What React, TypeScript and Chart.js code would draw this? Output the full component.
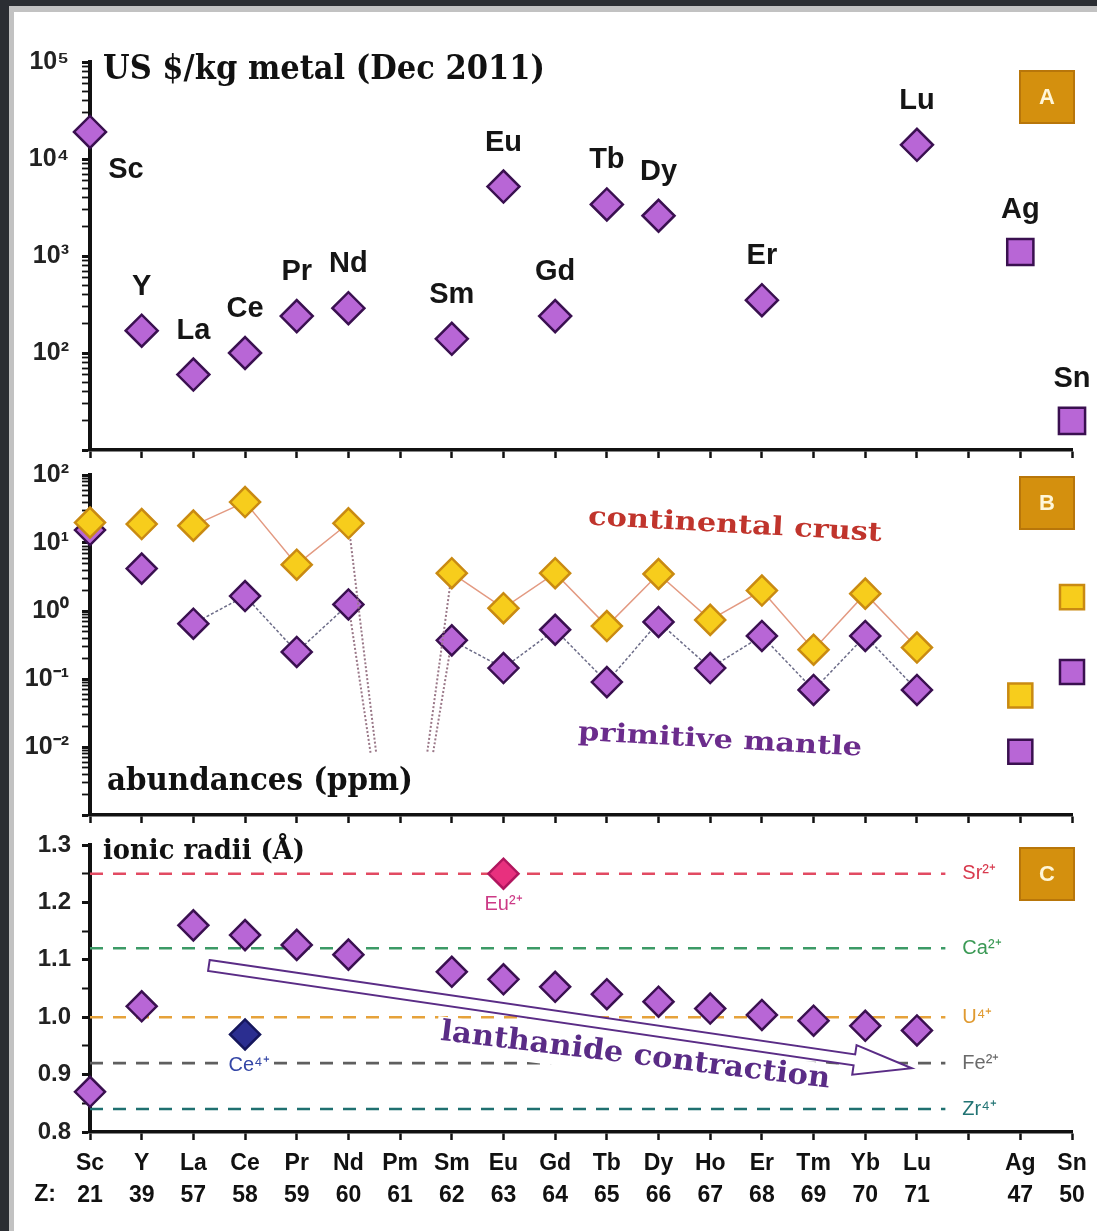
import React, { useEffect, useRef } from 'react';
import { Chart, registerables } from 'chart.js';

Chart.register(...registerables);

// ---------- data ----------
const ELEMENTS = ['Sc', 'Y', 'La', 'Ce', 'Pr', 'Nd', 'Pm', 'Sm', 'Eu', 'Gd', 'Tb', 'Dy', 'Ho', 'Er', 'Tm', 'Yb', 'Lu', '', 'Ag', 'Sn'];
const ATOMIC_NUMBERS = ['21', '39', '57', '58', '59', '60', '61', '62', '63', '64', '65', '66', '67', '68', '69', '70', '71', '', '47', '50'];

// A: metal prices, US$/kg (Dec 2011), Sc..Lu (null = no price shown)
const PRICE_REE = [19000, 170, 60, 100, 240, 290, null, 140, 5200, 240, 3400, 2600, null, 350, null, null, 14000];
// A: reference metals Ag, Sn
const OTHER_METALS = ['Ag', 'Sn'];
const PRICE_OTHER = [1100, 20];

// B: abundances (ppm), Sc..Lu; Pm has no stable isotope and sits far below the axis
const PM_TRACE = 1e-5;
const CRUST_PPM = [20, 19, 18, 40, 4.8, 19.5, PM_TRACE, 3.6, 1.1, 3.6, 0.6, 3.5, 0.74, 2.0, 0.27, 1.8, 0.29];
const MANTLE_PPM = [15.5, 4.2, 0.65, 1.66, 0.25, 1.25, PM_TRACE, 0.37, 0.145, 0.53, 0.09, 0.69, 0.145, 0.43, 0.069, 0.43, 0.069];
const CRUST_OTHER_PPM = [0.057, 1.6];
const MANTLE_OTHER_PPM = [0.0085, 0.127];

// C: ionic radii (Å), trivalent Sc..Lu
const RADII = [0.87, 1.019, 1.16, 1.143, 1.126, 1.109, null, 1.079, 1.066, 1.053, 1.04, 1.027, 1.015, 1.004, 0.994, 0.985, 0.977];
const EU2_RADIUS = 1.25;
const CE4_RADIUS = 0.97;
const REF_IONS = ['Sr²⁺', 'Ca²⁺', 'U⁴⁺', 'Fe²⁺', 'Zr⁴⁺'];
const REF_RADII = [1.25, 1.12, 1.0, 0.92, 0.84];

// ---------- styling ----------
const W = 1097;
const PLOT_LEFT = 90;
const PLOT_RIGHT = 1072;
const INK = '#111111';
const SANS = '"Liberation Sans", Arial, sans-serif';
const SERIF = '"DejaVu Serif", serif';
const PURPLE = '#b866d6';
const PURPLE_EDGE = '#3a1050';
const YELLOW = '#f7cd1c';
const YELLOW_EDGE = '#c98a12';
const BADGE = '#d4900e';
const REF_COLORS = ['#e24a62', '#3c9a66', '#e6a23a', '#5f5f5f', '#1f7070'];
const REF_LABEL_COLORS = ['#d83a4e', '#3c9a56', '#e09a30', '#6a6a6a', '#227474'];
const REF_END_X = 16.55;

const PANEL_A = { top: 0, height: 462, plotTop: 62, plotBottom: 450 };
const PANEL_B = { top: 462, height: 368, plotTop: 475, plotBottom: 815 };
const PANEL_C = { top: 830, height: 401, plotTop: 845, plotBottom: 1132 };

const PM_INDEX = ELEMENTS.indexOf('Pm');
const SUPER: Record<string, string> = { '-': '⁻', '0': '⁰', '1': '¹', '2': '²', '3': '³', '4': '⁴', '5': '⁵' };
const powLabel = (e: number) => '10' + String(e).split('').map((c) => SUPER[c]).join('');
const isDecade = (v: number) => Math.abs(Math.log10(v) - Math.round(Math.log10(v))) < 1e-9;

function diamond(fill: string, edge: string, r = 15) {
  return { pointStyle: 'rectRot', pointRadius: r, pointBackgroundColor: fill, pointBorderColor: edge, pointBorderWidth: 2.5, showLine: false, clip: false };
}
function square(fill: string, edge: string, r = 18) {
  return { pointStyle: 'rect', pointRadius: r, pointBackgroundColor: fill, pointBorderColor: edge, pointBorderWidth: 2.5, showLine: false, clip: false };
}

function xAxis(panel: any, showLabels: boolean) {
  return {
    type: 'linear',
    min: 0,
    max: ELEMENTS.length - 1,
    afterBuildTicks: (s: any) => { s.ticks = ELEMENTS.map((_, i) => ({ value: i })); },
    afterFit: (s: any) => {
      s.height = panel.top + panel.height - panel.plotBottom;
      s.paddingLeft = 0;
      s.paddingRight = 0;
    },
    ticks: {
      display: showLabels, autoSkip: false, maxRotation: 0, minRotation: 0, padding: 8, color: INK,
      font: { family: SANS, weight: 'bold', size: 23, lineHeight: 1.38 },
      callback: (_v: any, i: number) => [ELEMENTS[i], ATOMIC_NUMBERS[i]],
    },
    grid: { drawOnChartArea: false, drawTicks: true, tickLength: 8, tickWidth: 2.5, tickColor: INK },
    border: { display: true, width: 3.5, color: INK },
  };
}

function fixYWidth(s: any) {
  s.width = PLOT_LEFT;
  s.paddingTop = 0;
  s.paddingBottom = 0;
}

function logAxis(minExp: number, maxExp: number, labelled: number[]) {
  return {
    type: 'logarithmic',
    min: Math.pow(10, minExp),
    max: Math.pow(10, maxExp),
    afterBuildTicks: (s: any) => {
      const t: any[] = [];
      for (let e = minExp; e < maxExp; e++) for (let k = 1; k < 10; k++) t.push({ value: k * Math.pow(10, e), major: k === 1 });
      t.push({ value: Math.pow(10, maxExp), major: true });
      s.ticks = t;
    },
    afterFit: fixYWidth,
    ticks: {
      autoSkip: false, padding: 13, color: '#222',
      font: { family: SANS, weight: 'bold', size: 25 },
      callback: (v: number) => {
        if (!isDecade(v)) return '';
        const e = Math.round(Math.log10(v));
        return labelled.includes(e) ? powLabel(e) : '';
      },
    },
    grid: {
      drawOnChartArea: false, drawTicks: true, tickLength: 8, tickColor: INK,
      tickWidth: (c: any) => (c.tick && isDecade(c.tick.value) ? 3 : 1.8),
    },
    border: { display: true, width: 4, color: INK },
  };
}

function baseOptions(panel: any, y: any, showXLabels: boolean) {
  return {
    responsive: false,
    maintainAspectRatio: false,
    animation: false,
    events: [],
    layout: { autoPadding: false, padding: { top: panel.plotTop - panel.top, left: 0, right: W - PLOT_RIGHT, bottom: 0 } },
    plugins: { legend: { display: false }, tooltip: { enabled: false }, title: { display: false } },
    scales: { x: xAxis(panel, showXLabels), y },
  };
}

// ---------- drawing helpers ----------
// Draws text of a given glyph size, squeezed or stretched horizontally to a set width.
function drawFitted(ctx: CanvasRenderingContext2D, text: string, cx: number, cy: number, width: number, size: number, color: string, angle = 0, bg = false) {
  ctx.save();
  ctx.font = `bold ${size}px ${SERIF}`;
  const w = ctx.measureText(text).width;
  ctx.translate(cx, cy);
  ctx.rotate((angle * Math.PI) / 180);
  ctx.scale(width / w, 1);
  ctx.textAlign = 'center';
  ctx.textBaseline = 'middle';
  if (bg) {
    ctx.fillStyle = '#ffffff';
    ctx.fillRect(-w / 2 - 4, -size * 0.55, w + 8, size * 1.2);
  }
  ctx.fillStyle = color;
  ctx.fillText(text, 0, 0);
  ctx.restore();
}

function drawText(ctx: CanvasRenderingContext2D, text: string, cx: number, cy: number, font: string, color: string, bg = 0) {
  ctx.save();
  ctx.font = font;
  ctx.textAlign = 'center';
  ctx.textBaseline = 'middle';
  if (bg > 0) {
    const w = ctx.measureText(text).width;
    ctx.fillStyle = '#ffffff';
    ctx.fillRect(cx - w / 2 - 3, cy - bg / 2, w + 6, bg);
  }
  ctx.fillStyle = color;
  ctx.fillText(text, cx, cy);
  ctx.restore();
}

function drawBadge(ctx: CanvasRenderingContext2D, letter: string, cx: number, cy: number) {
  ctx.save();
  ctx.fillStyle = BADGE;
  ctx.fillRect(cx - 27, cy - 26, 54, 52);
  ctx.strokeStyle = '#b8760a';
  ctx.lineWidth = 2;
  ctx.strokeRect(cx - 27, cy - 26, 54, 52);
  ctx.font = `bold 22px ${SANS}`;
  ctx.fillStyle = '#fff6d8';
  ctx.textAlign = 'center';
  ctx.textBaseline = 'middle';
  ctx.fillText(letter, cx, cy + 1);
  ctx.restore();
}

// ---------- annotation plugins ----------
const priceNotes = {
  id: 'priceNotes',
  afterDatasetsDraw(chart: any) {
    const { ctx, chartArea } = chart;
    const { x, y } = chart.scales;
    const labelFont = `bold 29px ${SANS}`;
    PRICE_REE.forEach((v, i) => {
      if (v == null) return;
      const px = x.getPixelForValue(i);
      const py = y.getPixelForValue(v);
      if (i === 0) drawText(ctx, ELEMENTS[i], px + 36, py + 38, labelFont, '#151515');
      else drawText(ctx, ELEMENTS[i], px, py - 44, labelFont, '#151515');
    });
    PRICE_OTHER.forEach((v, k) => {
      const px = x.getPixelForValue(ELEMENTS.indexOf(OTHER_METALS[k]));
      drawText(ctx, OTHER_METALS[k], px, y.getPixelForValue(v) - 42, labelFont, '#151515');
    });
    drawFitted(ctx, 'US $/kg metal (Dec 2011)', chartArea.left + 13 + 221, chartArea.top + 8, 442, 33, INK);
    drawBadge(ctx, 'A', chartArea.right - 25, chartArea.top + 35);
  },
};

const abundanceNotes = {
  id: 'abundanceNotes',
  afterDatasetsDraw(chart: any) {
    const { ctx, chartArea } = chart;
    drawFitted(ctx, 'continental crust', 735, 64, 294, 26, '#c0342c', 3.2);
    drawFitted(ctx, 'primitive mantle', 720, 279, 284, 26, '#6b2c8c', 3.2);
    drawFitted(ctx, 'abundances (ppm)', chartArea.left + 17 + 153, chartArea.bottom - 33, 306, 31, INK);
    drawBadge(ctx, 'B', chartArea.right - 25, chartArea.top + 28);
  },
};

const radiiNotes = {
  id: 'radiiNotes',
  afterDatasetsDraw(chart: any) {
    const { ctx, chartArea } = chart;
    const { x, y } = chart.scales;
    ctx.save();
    // reference-ion labels at the end of the dashed lines
    REF_IONS.forEach((ion, k) => {
      ctx.font = `20px ${SANS}`;
      ctx.fillStyle = REF_LABEL_COLORS[k];
      ctx.textAlign = 'left';
      ctx.textBaseline = 'middle';
      ctx.fillText(ion, x.getPixelForValue(REF_END_X) + 17, y.getPixelForValue(REF_RADII[k]));
    });
    ctx.restore();
    // divalent / tetravalent labels
    drawText(ctx, 'Eu²⁺', x.getPixelForValue(ELEMENTS.indexOf('Eu')), y.getPixelForValue(EU2_RADIUS) + 31, `20px ${SANS}`, '#cc3a86');
    drawText(ctx, 'Ce⁴⁺', x.getPixelForValue(ELEMENTS.indexOf('Ce')) + 4, y.getPixelForValue(CE4_RADIUS) + 31, `20px ${SANS}`, '#3446a6', 20);

    // lanthanide contraction text and arrow
    drawFitted(ctx, 'lanthanide contraction', x.getPixelForValue(10.55), y.getPixelForValue(0.932), 392, 29, '#5a2c86', 7, true);

    const tail = { x: x.getPixelForValue(2.3), y: y.getPixelForValue(1.09) };
    const tip = { x: x.getPixelForValue(15.9), y: y.getPixelForValue(0.911) };
    const dx = tip.x - tail.x;
    const dy = tip.y - tail.y;
    const L = Math.hypot(dx, dy);
    const s = 5.5, hl = 58, hw = 15;
    ctx.save();
    ctx.translate(tail.x, tail.y);
    ctx.rotate(Math.atan2(dy, dx));
    ctx.beginPath();
    ctx.moveTo(0, -s);
    ctx.lineTo(L - hl, -s);
    ctx.lineTo(L - hl, -hw);
    ctx.lineTo(L, 0);
    ctx.lineTo(L - hl, hw);
    ctx.lineTo(L - hl, s);
    ctx.lineTo(0, s);
    ctx.closePath();
    ctx.fillStyle = '#ffffff';
    ctx.fill();
    ctx.strokeStyle = '#5a2c86';
    ctx.lineWidth = 2;
    ctx.stroke();
    ctx.restore();

    drawFitted(ctx, 'ionic radii (Å)', chartArea.left + 13 + 101, chartArea.top + 7, 202, 27, INK);
    drawBadge(ctx, 'C', chartArea.right - 25, chartArea.top + 29);

    drawText(ctx, 'Z:', chartArea.left - 45, chartArea.bottom + 63, `bold 23px ${SANS}`, INK);
  },
};

// ---------- charts ----------
function buildPrices(canvas: HTMLCanvasElement) {
  const ree = PRICE_REE.map((v, i) => (v == null ? null : { x: i, y: v })).filter(Boolean);
  const other = PRICE_OTHER.map((v, k) => ({ x: ELEMENTS.indexOf(OTHER_METALS[k]), y: v }));
  return new Chart(canvas, {
    type: 'scatter',
    data: {
      datasets: [
        { data: ree, ...diamond(PURPLE, PURPLE_EDGE, 16) },
        { data: other, ...square(PURPLE, PURPLE_EDGE, 18.5) },
      ],
    },
    options: baseOptions(PANEL_A, logAxis(1, 5, [2, 3, 4, 5]), false),
    plugins: [priceNotes],
  } as any);
}

function lanthanideSeries(values: number[], fill: string, edge: string, lineColor: string, dash: number[]) {
  const touchesPm = (c: any) => c.p0DataIndex === PM_INDEX - 2 || c.p1DataIndex === PM_INDEX - 2;
  return {
    data: values.slice(2).map((v, k) => ({ x: k + 2, y: v })),
    ...diamond(fill, edge),
    pointRadius: (c: any) => (c.raw && c.raw.x === PM_INDEX ? 0 : 15),
    showLine: true,
    borderColor: lineColor,
    borderWidth: 1.5,
    borderDash: dash,
    segment: {
      borderDash: (c: any) => (touchesPm(c) ? [2, 2] : undefined),
      borderColor: (c: any) => (touchesPm(c) ? '#9a7888' : undefined),
      borderWidth: (c: any) => (touchesPm(c) ? 2 : undefined),
    },
    clip: { left: false, top: false, right: false, bottom: -62 },
  };
}

function buildAbundances(canvas: HTMLCanvasElement) {
  const scY = (vals: number[]) => vals.slice(0, 2).map((v, i) => ({ x: i, y: v }));
  const others = (vals: number[]) => vals.map((v, k) => ({ x: ELEMENTS.indexOf(OTHER_METALS[k]), y: v }));
  return new Chart(canvas, {
    type: 'scatter',
    data: {
      datasets: [
        { data: scY(CRUST_PPM), ...diamond(YELLOW, YELLOW_EDGE) },
        lanthanideSeries(CRUST_PPM, YELLOW, YELLOW_EDGE, '#e39a82', []),
        { data: others(CRUST_OTHER_PPM), ...square(YELLOW, YELLOW_EDGE, 17) },
        { data: scY(MANTLE_PPM), ...diamond(PURPLE, PURPLE_EDGE) },
        lanthanideSeries(MANTLE_PPM, PURPLE, PURPLE_EDGE, '#6c6c88', [3, 2]),
        { data: others(MANTLE_OTHER_PPM), ...square(PURPLE, PURPLE_EDGE, 17) },
      ],
    },
    options: baseOptions(PANEL_B, logAxis(-3, 2, [-2, -1, 0, 1, 2]), false),
    plugins: [abundanceNotes],
  } as any);
}

function buildRadii(canvas: HTMLCanvasElement) {
  const radii = RADII.map((v, i) => (v == null ? null : { x: i, y: v })).filter(Boolean);
  const refLines = REF_RADII.map((r, k) => ({
    data: [{ x: 0, y: r }, { x: REF_END_X, y: r }],
    showLine: true,
    pointRadius: 0,
    borderColor: REF_COLORS[k],
    borderWidth: 2.6,
    borderDash: [13, 10],
    clip: false,
  }));
  const y = {
    type: 'linear',
    min: 0.8,
    max: 1.3,
    afterBuildTicks: (s: any) => { s.ticks = Array.from({ length: 11 }, (_, k) => ({ value: +(0.8 + k * 0.05).toFixed(2) })); },
    afterFit: fixYWidth,
    ticks: {
      autoSkip: false, padding: 11, color: '#222',
      font: { family: SANS, weight: 'bold', size: 24 },
      callback: (v: number) => (Math.round(v * 100) % 10 === 0 ? v.toFixed(1) : ''),
    },
    grid: {
      drawOnChartArea: false, drawTicks: true, tickLength: 8, tickColor: INK,
      tickWidth: (c: any) => (c.tick && Math.round(c.tick.value * 100) % 10 === 0 ? 3 : 2),
    },
    border: { display: true, width: 4, color: INK },
  };
  return new Chart(canvas, {
    type: 'scatter',
    data: {
      datasets: [
        { data: [{ x: ELEMENTS.indexOf('Eu'), y: EU2_RADIUS }], ...diamond('#e8307e', '#b0165e') },
        { data: [{ x: ELEMENTS.indexOf('Ce'), y: CE4_RADIUS }], ...diamond('#2b2e90', '#15165c') },
        { data: radii, ...diamond(PURPLE, PURPLE_EDGE) },
        ...refLines,
      ],
    },
    options: baseOptions(PANEL_C, y, true),
    plugins: [radiiNotes],
  } as any);
}

// ---------- components ----------
function Panel({ panel, build }: { panel: any; build: (c: HTMLCanvasElement) => Chart }) {
  const ref = useRef<HTMLCanvasElement>(null);
  useEffect(() => {
    const chart = build(ref.current as HTMLCanvasElement);
    return () => chart.destroy();
  }, []);
  return (
    <canvas
      ref={ref}
      width={W}
      height={panel.height}
      style={{ position: 'absolute', left: 0, top: panel.top, width: W, height: panel.height }}
    />
  );
}

export default function App() {
  return (
    <div style={{ position: 'absolute', left: 0, top: 0, width: W, height: 1231, background: '#2b2e33', overflow: 'hidden' }}>
      <div style={{ position: 'absolute', left: 9, top: 6, right: 0, bottom: 0, background: '#c2c2c2' }} />
      <div style={{ position: 'absolute', left: 14, top: 12, right: 0, bottom: 0, background: '#ffffff' }} />
      <Panel panel={PANEL_A} build={buildPrices} />
      <Panel panel={PANEL_B} build={buildAbundances} />
      <Panel panel={PANEL_C} build={buildRadii} />
    </div>
  );
}
